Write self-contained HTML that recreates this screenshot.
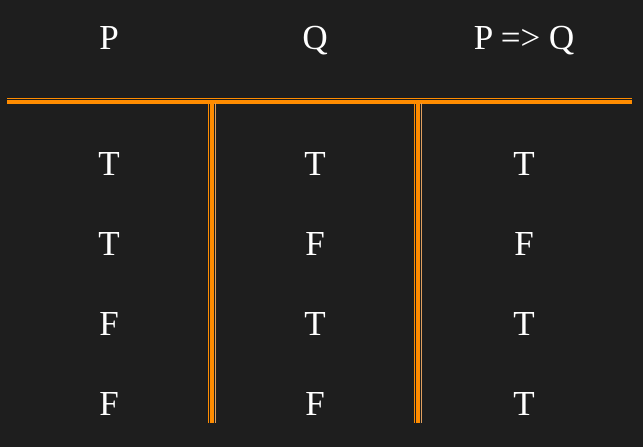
<!DOCTYPE html>
<html><head><meta charset="utf-8"><style>
html,body{margin:0;padding:0;background:#1e1e1e;}
#c{position:relative;width:643px;height:447px;overflow:hidden;background:#1e1e1e;font-family:"Liberation Serif",serif;color:#fff;}
.t{position:absolute;font-size:35px;line-height:1;transform:translateX(-50%);white-space:nowrap;}
.l{position:absolute;background:#ff8c00;}
</style></head><body>
<div id="c">
<div class="l" style="left:7px;top:98px;width:625px;height:1px"></div>
<div class="l" style="left:7px;top:100px;width:625px;height:4px"></div>
<div class="l" style="left:208px;top:103px;width:1px;height:320px"></div>
<div class="l" style="left:210px;top:103px;width:4px;height:320px"></div>
<div class="l" style="left:215px;top:103px;width:1px;height:320px;background:#e0a060"></div>
<div class="l" style="left:414px;top:103px;width:1px;height:320px"></div>
<div class="l" style="left:416px;top:103px;width:4px;height:320px"></div>
<div class="l" style="left:421px;top:103px;width:1px;height:320px;background:#e0a060"></div>

<div class="t" style="left:109px;top:20px">P</div>
<div class="t" style="left:315px;top:20px">Q</div>
<div class="t" style="left:524px;top:20px">P =&gt; Q</div>

<div class="t" style="left:109px;top:146px">T</div>
<div class="t" style="left:315px;top:146px">T</div>
<div class="t" style="left:524px;top:146px">T</div>

<div class="t" style="left:109px;top:226px">T</div>
<div class="t" style="left:315px;top:226px">F</div>
<div class="t" style="left:524px;top:226px">F</div>

<div class="t" style="left:109px;top:306px">F</div>
<div class="t" style="left:315px;top:306px">T</div>
<div class="t" style="left:524px;top:306px">T</div>

<div class="t" style="left:109px;top:386px">F</div>
<div class="t" style="left:315px;top:386px">F</div>
<div class="t" style="left:524px;top:386px">T</div>
</div>
</body></html>
